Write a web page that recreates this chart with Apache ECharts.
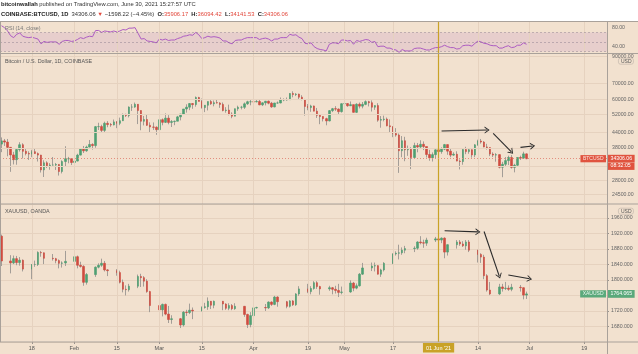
<!DOCTYPE html>
<html><head><meta charset="utf-8">
<script src="https://cdn.jsdelivr.net/npm/echarts@6/dist/echarts.min.js"></script>
<style>html,body{margin:0;padding:0;background:#fff}#c{width:638px;height:354px}</style>
</head><body><div id="c"></div>
<script>
// ---------------- DATA ----------------
// Time axis: daily categories, Jan 8 2021 .. Jul 26 2021
const axisStart = [2021, 0, 8];
const axisDayCount = 200;

// BTCUSD daily candles Jan 8 .. Jun 30 (one value per calendar day)
const btcOpen = [39400,40600,40150,38200,35550,34000,37400,39150,36800,36050,35850,36650,36000,35500,30850,33000,32100,32300,32300,32500,30400,33400,34300,34300,
33100,33550,35500,37650,36950,38300,39250,38850,46450,46500,44850,47950,47400,47200,48600,47950,49150,52150,51600,55900,55900,57400,54100,48900,49700,47050,46300,46200,
45150,49600,48400,50350,48350,48750,48900,50950,52350,54900,55850,57800,57250,61200,59000,55650,56900,58900,57650,58300,58100,57350,54100,54350,52300,51300,55050,55800,55800,57650,58800,
58800,58750,58950,57100,58200,59100,58000,56000,58100,58100,59800,59850,59900,63550,62950,63200,61400,60050,56250,55650,56500,53800,51700,51150,50100,49050,54050,55050,54850,53550,
57700,57800,56600,57200,53200,57450,56400,57350,58850,58250,55850,56700,49400,49700,49900,46800,46450,43550,42900,37000,40650,37300,37500,34700,38850,38350,39300,38500,35700,34600,35650,
37300,36700,37550,39200,36850,35500,35800,33550,33400,37400,36700,37350,35550,39100,40550,40150,38350,38100,35850,35500,35650,31650,32550,33700,34700,31600,32250,34700,34500,35906.17];
const btcClose = [40600,40150,38200,35550,34000,37400,39150,36800,36050,35850,36650,36000,35500,30850,33000,32100,32300,32300,32500,30400,33400,34300,34300,33100,
33550,35500,37650,36950,38300,39250,38850,46450,46500,44850,47950,47400,47200,48600,47950,49150,52150,51600,55900,55900,57400,54100,48900,49700,47050,46300,46200,45150,
49600,48400,50350,48350,48750,48900,50950,52350,54900,55850,57800,57250,61200,59000,55650,56900,58900,57650,58300,58100,57350,54100,54350,52300,51300,55050,55800,55800,57650,58800,58800,
58750,58950,57100,58200,59100,58000,56000,58100,58100,59800,59850,59900,63550,62950,63200,61400,60050,56250,55650,56500,53800,51700,51150,50100,49050,54050,55050,54850,53550,57700,
57800,56600,57200,53200,57450,56400,57350,58850,58250,55850,56700,49400,49700,49900,46800,46450,43550,42900,37000,40650,37300,37500,34700,38850,38350,39300,38500,35700,34600,35650,37300,
36700,37550,39200,36850,35500,35800,33550,33400,37400,36700,37350,35550,39100,40550,40150,38350,38100,35850,35500,35650,31650,32550,33700,34700,31600,32250,34700,34500,35906.17,34306.06];
const btcHigh = [41950,41350,41350,38300,36600,37800,40100,39700,37900,36800,37300,37850,36400,35600,33800,33500,32900,34850,32950,32550,33800,38600,34900,34350,
34700,35950,37700,38700,38800,40950,39700,46750,48200,47300,48700,48950,48100,49700,49000,50600,52600,52500,56300,57500,58350,57500,54200,51400,52000,48400,48350,46600,
49800,50200,52650,51800,49450,49200,51450,52400,54900,57400,58100,58050,61800,61600,60600,56950,58950,60100,59500,59900,58600,58400,55850,57200,53200,55100,56650,56550,58400,59350,59800,
59500,60050,59800,58500,59250,59450,58700,58200,58950,61200,60700,61200,63800,64900,63800,63500,62550,60400,57550,57150,56700,55450,52150,51250,50550,54350,55450,56400,55200,57950,
58450,57950,58950,57200,57950,58350,58650,59550,59300,59550,56850,58000,51350,51550,50650,49750,46600,45800,43550,42500,42200,38850,38250,39900,39800,40850,40400,38200,37300,36400,37500,
37900,38200,39450,39250,37900,36450,36800,34050,37550,38400,37700,37450,39350,41050,41350,40550,39500,38200,36450,36150,35750,33300,34850,35300,35500,32700,34750,35300,36650,36094.42];
const btcLow = [36500,38700,35100,30300,32500,32400,36700,34400,35400,33900,34800,35900,33400,30100,28850,31400,30900,32100,30850,29250,29850,31950,32850,32300,
32300,33450,35400,36200,36600,38200,37400,38050,45000,43800,44000,46200,46400,47000,45800,47100,48950,50900,50700,53900,55500,47600,44900,47000,46800,44100,45050,43000,
45050,47050,48100,47500,46300,47100,48900,49300,51850,53050,54300,55000,56100,59000,55100,53300,54150,57050,56300,57800,55500,53700,53000,51700,50300,51250,53950,54700,54900,57050,56850,
57950,58450,56900,56450,56800,57400,55500,55750,57700,57900,59100,59400,59800,61300,62050,60000,59600,51550,54250,53450,53700,50450,47550,48800,47050,48800,53300,53900,52350,53050,
57050,56050,56450,53050,52900,55200,55250,56900,56250,53600,54450,48650,46000,48850,46600,43850,42050,42250,30000,34800,33500,35250,31100,34500,36450,37800,37200,34700,33650,33400,34250,
35700,35950,37200,35600,34800,35250,33450,31000,32400,35800,35950,34650,34800,38750,39550,38200,37400,35150,34850,33350,31300,28800,31700,32300,31250,30150,32000,33900,34250,34141.53];

const rsiValues = [84,80,73,63,59,66,69,62,60,59, 60,58,56,46,51,49,50,50,50,45, 51,53,53,51,52,55,59,57,60,62,
61,74,74,70,73,72,71,73,71,73, 76,75,79,79,80,68,56,57,52,51, 50,48,56,54,56,53,54,54,57,59,
62,63,65,64,70,65,57,59,62,60, 61,60,58,52,52,48,46,53,54,54, 57,59,59,59,59,55,57,58,56,52,
56,56,59,59,59,66,64,65,60,57, 47,46,48,40,36,34,33,31,45,48, 48,46,54,54,52,53,45,53,51,53,
55,54,49,51,40,41,41,37,37,34, 33,28,34,31,31,31,36,37,37,35, 33,33,36,38,38,40,43,40,38,38,
35,36,42,43,43,41,47,52,50,47, 46,43,42,42,37,37,40,42,38,39, 43,43,48,45];

// XAUUSD (OANDA) daily candles, trading days only
const goldDates = ['01-08','01-11','01-12','01-13','01-14','01-15','01-18','01-19','01-20','01-21','01-22','01-25','01-26','01-27','01-28','01-29',
'02-01','02-02','02-03','02-04','02-05','02-08','02-09','02-10','02-11','02-12','02-15','02-16','02-17','02-18','02-19','02-22','02-23','02-24','02-25','02-26',
'03-01','03-02','03-03','03-04','03-05','03-08','03-09','03-10','03-11','03-12','03-15','03-16','03-17','03-18','03-19','03-22','03-23','03-24','03-25','03-26','03-29','03-30','03-31',
'04-01','04-02','04-05','04-06','04-07','04-08','04-09','04-12','04-13','04-14','04-15','04-16','04-19','04-20','04-21','04-22','04-23','04-26','04-27','04-28','04-29','04-30',
'05-03','05-04','05-05','05-06','05-07','05-10','05-11','05-12','05-13','05-14','05-17','05-18','05-19','05-20','05-21','05-24','05-25','05-26','05-27','05-28','05-31',
'06-01','06-02','06-03','06-04','06-07','06-08','06-09','06-10','06-11','06-14','06-15','06-16','06-17','06-18','06-21','06-22','06-23','06-24','06-25','06-28','06-29','06-30'];
const goldOpen = [1913,1849,1844,1855,1845,1851,1828,1840,1840,1871,1870,1856,1855,1850,1843,1844,
1848,1860,1838,1835,1794,1814,1833,1838,1843,1826,1824,1819,1794,1776,1775,1784,1809,1806,1797,1770,
1734,1723,1737,1712,1698,1700,1684,1717,1716,1722,1720,1729,1731,1745,1735,1745,1738,1727,1734,1726,1732,1711,1685,
1708,1728,1729,1728,1743,1737,1756,1744,1732,1746,1736,1764,1777,1770,1778,1793,1783,1777,1780,1776,1773,1768,
1769,1792,1779,1785,1815,1831,1836,1837,1815,1826,1843,1867,1869,1870,1877,1881,1882,1898,1896,1895,1903,
1906,1903,1908,1872,1891,1898,1893,1888,1898,1877,1866,1859,1811,1774,1764,1782,1778,1779,1776,1781,1780,1761];
const goldHigh = [1917,1864,1863,1862,1859,1853,1841,1850,1874,1875,1871,1867,1857,1853,1848,1875,
1875,1863,1847,1838,1818,1835,1843,1855,1849,1828,1828,1824,1801,1786,1790,1814,1816,1810,1802,1772,
1760,1739,1739,1733,1709,1702,1720,1723,1739,1729,1732,1741,1755,1746,1747,1746,1740,1740,1738,1740,1733,1713,1717,
1732,1731,1738,1745,1745,1759,1758,1746,1748,1748,1766,1784,1790,1784,1797,1797,1785,1785,1782,1785,1790,1783,
1799,1795,1791,1818,1844,1845,1845,1838,1829,1846,1869,1874,1891,1884,1888,1887,1900,1913,1904,1909,1911,
1916,1910,1910,1892,1903,1903,1900,1903,1903,1878,1869,1865,1815,1795,1790,1790,1795,1786,1790,1787,1781,1770];
const goldLow = [1836,1817,1841,1838,1837,1822,1802,1834,1836,1860,1841,1850,1843,1830,1832,1836,
1845,1830,1832,1785,1788,1808,1830,1834,1822,1810,1811,1791,1768,1760,1770,1779,1782,1783,1767,1717,
1718,1706,1709,1689,1687,1676,1680,1707,1712,1699,1719,1726,1723,1725,1727,1722,1723,1722,1722,1723,1705,1676,1678,
1705,1726,1720,1725,1733,1735,1731,1727,1729,1733,1733,1759,1766,1763,1775,1777,1762,1772,1763,1765,1756,1763,
1767,1771,1776,1783,1813,1823,1822,1814,1808,1822,1841,1863,1853,1865,1869,1872,1878,1892,1883,1888,1898,
1893,1895,1856,1863,1881,1888,1885,1878,1872,1845,1844,1802,1770,1761,1761,1770,1774,1772,1771,1770,1750,1751];
const goldClose = [1849,1844,1855,1845,1851,1828,1840,1840,1871,1870,1856,1855,1850,1843,1844,1848,
1860,1838,1835,1794,1814,1833,1838,1843,1826,1824,1819,1794,1776,1775,1784,1809,1806,1797,1770,1734,
1723,1737,1712,1698,1700,1684,1717,1716,1722,1720,1729,1731,1745,1735,1745,1738,1727,1734,1726,1732,1711,1685,1708,
1728,1729,1728,1743,1737,1756,1744,1732,1746,1736,1764,1777,1770,1778,1793,1783,1777,1780,1776,1773,1768,1769,
1792,1779,1785,1815,1831,1836,1837,1815,1826,1843,1867,1869,1870,1877,1881,1882,1898,1896,1895,1903,1906,
1903,1908,1872,1891,1898,1893,1888,1898,1877,1866,1859,1811,1774,1764,1782,1778,1779,1776,1781,1780,1761,1764.065];

// Axis ticks
const xTickDates  = ['01-18','02-01','02-15','03-01','03-15','04-01','04-19','05-01','05-17','06-14','07-01','07-19'];
const xTickLabels = ['18','Feb','15','Mar','15','Apr','19','May','17','14','Jul','19'];
const markedDate = '06-01';
const markedDateLabel = "01 Jun '21";
const btcTickValues = [90000,70000,60000,52000,44000,38000,32000,28000,24500];
const btcTickLabels = ['90000.00','70000.00','60000.00','52000.00','44000.00','38000.00','','28000.00','24500.00'];
const rsiTickValues = [80,40];
const rsiTickLabels = ['80.00','40.00'];
const rsiLevels = [70,50,30];
const btcLast = 34306.06, btcCountdown = '08:32:05';
const goldLast = 1764.065;

// Hand-drawn arrows (date, price)
const btcArrows = [[['06-02',44600],['06-17',45000]],[['06-19',43600],['06-25',36600]],[['06-28',38200],['07-02',38700]]];
const goldArrows = [[['06-03',1927],['06-14',1924]],[['06-16',1925],['06-21',1810]],[['06-24',1813],['07-01',1803]]];

// ---------------- BUILD ----------------
function pad(n){return String(n).padStart(2,'0');}
const axisDates = [];
for (let i = 0; i < axisDayCount; i++) {
  const d = new Date(Date.UTC(axisStart[0], axisStart[1], axisStart[2] + i));
  axisDates.push(pad(d.getUTCMonth()+1) + '-' + pad(d.getUTCDate()));
}
const btcDates = axisDates.slice(0, btcClose.length);

const L = {left: 0, right: 31, rsiTop: 21, rsiH: 32.5, btcTop: 53.5, btcH: 150.5, goldTop: 204, goldH: 138, W: 638, H: 354};
const FONT = 'Liberation Sans, Arial, sans-serif';
const BG = '#f2e1cf', GRID = '#e6d2bf', SEP = '#a9a19a';
const UP = '#4f9f72', DOWN = '#cf4b3f', WICK = '#a39d97', GOLDLINE = '#c9a227';
const AXTXT = '#666';
const HIDDEN = {color: 'rgba(0,0,0,0)', width: 0};

const xTickSet = new Set(xTickDates);
const xLabelMap = {}; xTickDates.forEach((d,i)=>xLabelMap[d]=xTickLabels[i]);

const vGrid = xTickDates.map(d => ({xAxis: d, lineStyle: {color: GRID, width: 1, type: 'solid'}, label: {show: false}}));
function junLine(withLabel) {
  return {xAxis: markedDate, lineStyle: {color: GOLDLINE, width: 1.2, type: 'solid'},
    label: withLabel ? {show: true, position: 'start', distance: 1, formatter: markedDateLabel, backgroundColor: GOLDLINE,
      color: '#fff', fontSize: 5.5, fontFamily: FONT, padding: [2, 3, 1.5, 3]} : {show: false}};
}
const chevron = 'path://M0,10 L5,0 L10,10 L8.4,10 L5,3.2 L1.6,10 Z';
function arrows(list) {
  return list.map(a => [
    {coord: a[0], symbol: 'none', lineStyle: {color: '#2a2a2a', width: 1.1, type: 'solid'}, label: {show: false}},
    {coord: a[1], symbol: chevron, symbolSize: [7, 5]}
  ]);
}
function axisText(extra) {
  return Object.assign({show: true, position: 'end', distance: 5, color: AXTXT, fontSize: 5.2, fontFamily: FONT}, extra || {});
}

const rsiMarks = [].concat(
  vGrid,
  rsiLevels.map(v => ({yAxis: v, lineStyle: {color: 'rgba(110,100,120,0.45)', width: 0.8, type: [2, 2]}, label: {show: false}})),
  rsiTickValues.map((v,i) => ({yAxis: v, lineStyle: HIDDEN, label: axisText({formatter: rsiTickLabels[i]})})),
  [junLine(false)]
);
const btcGridMarks = [].concat(
  vGrid,
  btcTickValues.map((v,i) => ({yAxis: v, lineStyle: {color: GRID, width: 1, type: 'solid'},
    label: btcTickLabels[i] ? axisText({formatter: btcTickLabels[i]}) : {show: false}}))
);
const btcTopMarks = [].concat(
  [junLine(false)],
  [{yAxis: btcLast, lineStyle: {color: '#e38e7e', width: 1, type: [1, 2]},
    label: {show: true, position: 'end', distance: 1, formatter: btcLast.toFixed(2), backgroundColor: '#e0533f', color: '#fff',
      fontSize: 5.2, fontFamily: FONT, padding: [1.6, 2.5, 1.2, 2.5]}},
   {yAxis: btcLast, lineStyle: HIDDEN,
    label: {show: true, position: 'insideEndBottom', distance: [-1, 4.2], align: 'left', formatter: btcCountdown, backgroundColor: '#e0533f', color: '#fff',
      fontSize: 5.2, fontFamily: FONT, padding: [0.4, 3.8, 1.6, 2.5]}},
   {yAxis: btcLast, lineStyle: HIDDEN,
    label: {show: true, position: 'insideEnd', distance: 1, formatter: 'BTCUSD', backgroundColor: '#e0533f', color: '#fbe4dc',
      fontSize: 5, fontFamily: FONT, padding: [1.2, 2.5, 1, 2.5]}}],
  arrows(btcArrows)
);
const goldGridMarks = vGrid;
const goldTopMarks = [].concat(
  [junLine(true)],
  [{yAxis: goldLast, lineStyle: HIDDEN,
    label: {show: true, position: 'end', distance: 1, formatter: goldLast.toFixed(3), backgroundColor: '#5aa97b', color: '#fff',
      fontSize: 5.2, fontFamily: FONT, padding: [1.6, 2.5, 1.2, 2.5]}},
   {yAxis: goldLast, lineStyle: HIDDEN,
    label: {show: true, position: 'insideEnd', distance: 1, formatter: 'XAUUSD', backgroundColor: '#5aa97b', color: '#eaf6ee',
      fontSize: 5, fontFamily: FONT, padding: [1.2, 2.5, 1, 2.5]}}],
  arrows(goldArrows)
);

function wickData(dates, o, c, l, h) { return dates.map((d,i)=>[d, o[i], c[i], l[i], h[i]]); }
function bodyData(dates, o, c) { return dates.map((d,i)=>[d, o[i], c[i], Math.min(o[i],c[i]), Math.max(o[i],c[i])]); }

const wickStyle = {color: 'transparent', color0: 'transparent', borderColor: WICK, borderColor0: WICK, borderColorDoji: WICK, borderWidth: 1};
const bodyStyle = {color: UP, color0: DOWN, borderColor: UP, borderColor0: DOWN, borderColorDoji: UP, borderWidth: 0.6};

const baseX = {type: 'category', data: axisDates, boundaryGap: true, axisLine: {show: false}, axisTick: {show: false}, axisLabel: {show: false}, splitLine: {show: false}};
const sepLine = (x1,y1,x2,y2) => ({type: 'line', shape: {x1, y1, x2, y2}, style: {stroke: SEP, lineWidth: 1}, silent: true, z: 10});
const plotRight = L.W - L.right;

const option = {
  animation: false,
  backgroundColor: BG,
  textStyle: {fontFamily: FONT},
  title: [
    {left: 1, top: 1.5, padding: 0, text: '{b|bitcoinwallah} published on TradingView.com, June 30, 2021 15:27:57 UTC',
      textStyle: {fontSize: 5.8, color: '#333', fontWeight: 'normal', fontFamily: FONT, rich: {b: {fontSize: 5.8, fontWeight: 'bold', color: '#222', fontFamily: FONT}}}},
    {left: 1, top: 11, padding: 0,
      text: '{b|COINBASE:BTCUSD, 1D}  34306.06 {r|\u25BC} \u22121598.22 (\u22124.45%)  {b|O:}{r|35906.17}  {b|H:}{r|36094.42}  {b|L:}{r|34141.53}  {b|C:}{r|34306.06}',
      textStyle: {fontSize: 5.8, color: '#333', fontWeight: 'normal', fontFamily: FONT,
        rich: {b: {fontSize: 5.8, fontWeight: 'bold', color: '#222', fontFamily: FONT}, r: {fontSize: 5.8, color: '#e2483c', fontFamily: FONT}}}},
    {left: 5, top: 26.5, padding: 0, text: 'RSI (14, close)', textStyle: {fontSize: 5.4, color: '#777', fontWeight: 'normal', fontFamily: FONT}},
    {left: 5, top: 59.5, padding: 0, text: 'Bitcoin / U.S. Dollar, 1D, COINBASE', textStyle: {fontSize: 5.4, color: '#555', fontWeight: 'normal', fontFamily: FONT}},
    {left: 5, top: 209.5, padding: 0, text: 'XAUUSD, OANDA', textStyle: {fontSize: 5.4, color: '#555', fontWeight: 'normal', fontFamily: FONT}},
    {right: 4, top: 57.5, padding: [1.2, 2.5, 1, 2.5], text: 'USD', backgroundColor: BG, borderColor: '#c9bcb0', borderWidth: 0.8, borderRadius: 2,
      textStyle: {fontSize: 5, color: '#555', fontWeight: 'normal', fontFamily: FONT}},
    {right: 4, top: 207.5, padding: [1.2, 2.5, 1, 2.5], text: 'USD', backgroundColor: BG, borderColor: '#c9bcb0', borderWidth: 0.8, borderRadius: 2,
      textStyle: {fontSize: 5, color: '#555', fontWeight: 'normal', fontFamily: FONT}}
  ],
  graphic: [
    {type: 'rect', shape: {x: 0, y: 0, width: L.W, height: L.rsiTop}, style: {fill: '#ffffff'}, silent: true, z: -10},
    sepLine(0, L.rsiTop + 0.5, L.W, L.rsiTop + 0.5),
    sepLine(0, L.btcTop, L.W, L.btcTop),
    sepLine(0, L.goldTop, L.W, L.goldTop),
    sepLine(0, L.goldTop + L.goldH, L.W, L.goldTop + L.goldH),
    sepLine(plotRight + 0.5, L.rsiTop, plotRight + 0.5, L.H),
    sepLine(0.5, L.rsiTop, 0.5, L.goldTop + L.goldH)
  ],
  grid: [
    {left: L.left, right: L.right, top: L.rsiTop, height: L.rsiH},
    {left: L.left, right: L.right, top: L.btcTop, height: L.btcH},
    {left: L.left, right: L.right, top: L.goldTop, height: L.goldH}
  ],
  xAxis: [
    Object.assign({}, baseX, {gridIndex: 0}),
    Object.assign({}, baseX, {gridIndex: 1}),
    Object.assign({}, baseX, {gridIndex: 2,
      axisTick: {show: true, alignWithLabel: true, length: 2, interval: (i, v) => xTickSet.has(v), lineStyle: {color: '#9a928b'}},
      axisLabel: {show: true, interval: (i, v) => xTickSet.has(v), formatter: v => xLabelMap[v] || '', color: '#555', fontSize: 5.5, margin: 3.5, fontFamily: FONT}})
  ],
  yAxis: [
    {gridIndex: 0, type: 'value', min: 25.6, max: 94, show: false},
    {gridIndex: 1, type: 'log', logBase: 10, min: 22350, max: 92800, show: false},
    {gridIndex: 2, type: 'value', min: 1640, max: 1996, interval: 40, position: 'right',
      axisLine: {show: false}, axisTick: {show: true, length: 2, lineStyle: {color: '#9a928b'}},
      axisLabel: {show: true, showMinLabel: false, showMaxLabel: false, margin: 4, color: AXTXT, fontSize: 5.2, fontFamily: FONT,
        formatter: v => (v === 1760 ? '' : v.toFixed(3))},
      splitLine: {show: true, lineStyle: {color: GRID, width: 1}}}
  ],
  series: [
    {name: 'RSI', type: 'line', xAxisIndex: 0, yAxisIndex: 0, data: btcDates.map((d,i)=>[d, rsiValues[i]]),
      symbol: 'none', lineStyle: {color: '#ad5cc2', width: 1}, z: 3,
      markArea: {silent: true, itemStyle: {color: 'rgba(165, 85, 185, 0.13)'}, data: [[{yAxis: 30}, {yAxis: 70}]]},
      markLine: {silent: true, symbol: ['none','none'], animation: false, data: rsiMarks}},
    {name: 'BTC wick', type: 'candlestick', xAxisIndex: 1, yAxisIndex: 1, encode: {x: 0, y: [1,2,3,4]},
      data: wickData(btcDates, btcOpen, btcClose, btcLow, btcHigh), barWidth: 1, itemStyle: wickStyle, z: 2,
      markLine: {silent: true, symbol: ['none','none'], animation: false, data: btcGridMarks}},
    {name: 'BTC', type: 'candlestick', xAxisIndex: 1, yAxisIndex: 1, encode: {x: 0, y: [1,2,3,4]},
      data: bodyData(btcDates, btcOpen, btcClose), barWidth: 2, itemStyle: bodyStyle, z: 4,
      markLine: {silent: true, symbol: ['none','none'], animation: false, data: btcTopMarks}},
    {name: 'Gold wick', type: 'candlestick', xAxisIndex: 2, yAxisIndex: 2, encode: {x: 0, y: [1,2,3,4]},
      data: wickData(goldDates, goldOpen, goldClose, goldLow, goldHigh), barWidth: 1, itemStyle: wickStyle, z: 2,
      markLine: {silent: true, symbol: ['none','none'], animation: false, data: goldGridMarks}},
    {name: 'XAUUSD', type: 'candlestick', xAxisIndex: 2, yAxisIndex: 2, encode: {x: 0, y: [1,2,3,4]},
      data: bodyData(goldDates, goldOpen, goldClose), barWidth: 2, itemStyle: bodyStyle, z: 4,
      markLine: {silent: true, symbol: ['none','none'], animation: false, data: goldTopMarks}}
  ]
};
const chart = echarts.init(document.getElementById('c'));
chart.setOption(option);
</script></body></html>
